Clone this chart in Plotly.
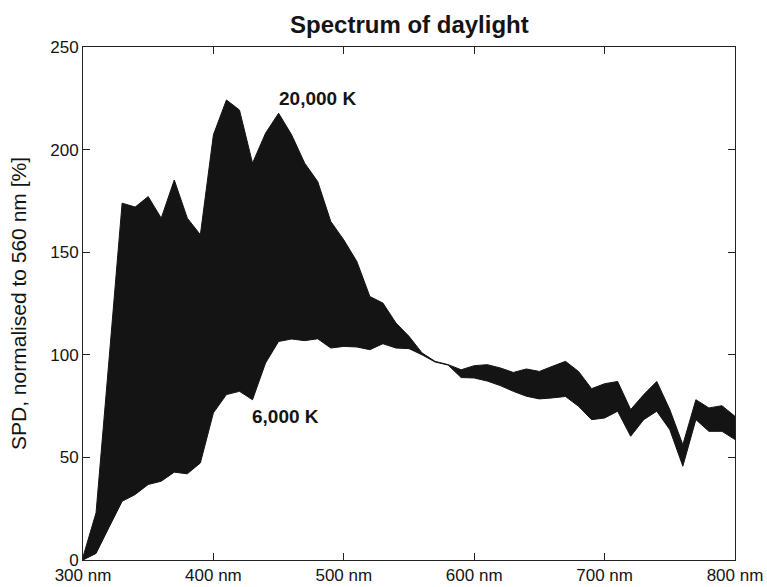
import plotly.graph_objects as go

# Relative spectral power distribution of daylight, normalised to 560 nm = 100 %
wavelength_nm = list(range(300, 801, 10))

spd_6000k = [
    0.0, 3.2, 16.0, 28.6, 31.9, 36.8, 38.4, 42.8, 42.0, 47.3,
    71.7, 80.6, 82.2, 78.1, 96.0, 106.5, 107.7, 106.9, 107.8, 103.3,
    104.1, 103.8, 102.5, 105.4, 103.3, 103.0, 100.0, 96.5, 95.0, 88.9,
    88.7, 87.2, 85.0, 82.2, 79.8, 78.5, 79.0, 79.7, 74.9, 68.4,
    69.2, 72.5, 60.3, 68.4, 72.5, 63.5, 45.7, 68.4, 62.7, 62.7,
    58.7,
]

spd_20000k = [
    1.5, 23.0, 98.0, 173.9, 172.0, 177.1, 166.6, 185.2, 166.6, 158.5,
    207.2, 224.2, 219.3, 193.4, 208.0, 217.7, 207.2, 193.4, 184.4, 165.0,
    156.0, 145.5, 128.4, 125.2, 115.5, 109.0, 100.9, 96.8, 95.2, 92.7,
    94.7, 95.2, 93.6, 91.4, 93.1, 91.9, 94.4, 96.8, 91.9, 83.5,
    85.9, 87.0, 73.3, 80.6, 87.0, 73.3, 56.2, 78.1, 74.1, 75.2,
    70.0,
]

x_ticks = [300, 400, 500, 600, 700, 800]
x_tick_text = [f"{v} nm" for v in x_ticks]
y_ticks = [0, 50, 100, 150, 200, 250]

ink = "#141414"
font_family = "Liberation Sans, Arial, Helvetica, sans-serif"

fig = go.Figure()
fig.add_trace(go.Scatter(
    x=wavelength_nm, y=spd_6000k, mode="lines",
    line=dict(color=ink, width=1), showlegend=False, hoverinfo="skip",
))
fig.add_trace(go.Scatter(
    x=wavelength_nm, y=spd_20000k, mode="lines",
    line=dict(color=ink, width=1), fill="tonexty", fillcolor=ink,
    showlegend=False, hoverinfo="skip",
))

fig.add_annotation(x=480, y=224.7, text="<b>20,000 K</b>", showarrow=False,
                   font=dict(size=19, color=ink, family=font_family))
fig.add_annotation(x=455, y=70, text="<b>6,000 K</b>", showarrow=False,
                   font=dict(size=19, color=ink, family=font_family))

axis_common = dict(
    showgrid=False, zeroline=False, showline=True, linecolor="#222222",
    linewidth=1, mirror="ticks", ticks="inside", ticklen=7,
    tickcolor="#222222", automargin=False,
    tickfont=dict(size=17, color=ink, family=font_family),
)

fig.update_layout(
    width=767, height=587,
    margin=dict(l=83, r=32, t=47, b=27),
    paper_bgcolor="white", plot_bgcolor="white",
    title=dict(text="<b>Spectrum of daylight</b>", x=0.5338, xanchor="center",
               y=0.958, yanchor="middle",
               font=dict(size=24, color=ink, family=font_family)),
    xaxis=dict(range=[300, 800], tickvals=x_ticks, ticktext=x_tick_text,
               **axis_common),
    yaxis=dict(range=[0, 250], tickvals=y_ticks,
               title=dict(text="SPD, normalised to 560 nm [%]", standoff=17,
                          font=dict(size=21, color=ink, family=font_family)),
               **axis_common),
)

fig.write_html("out.html")
